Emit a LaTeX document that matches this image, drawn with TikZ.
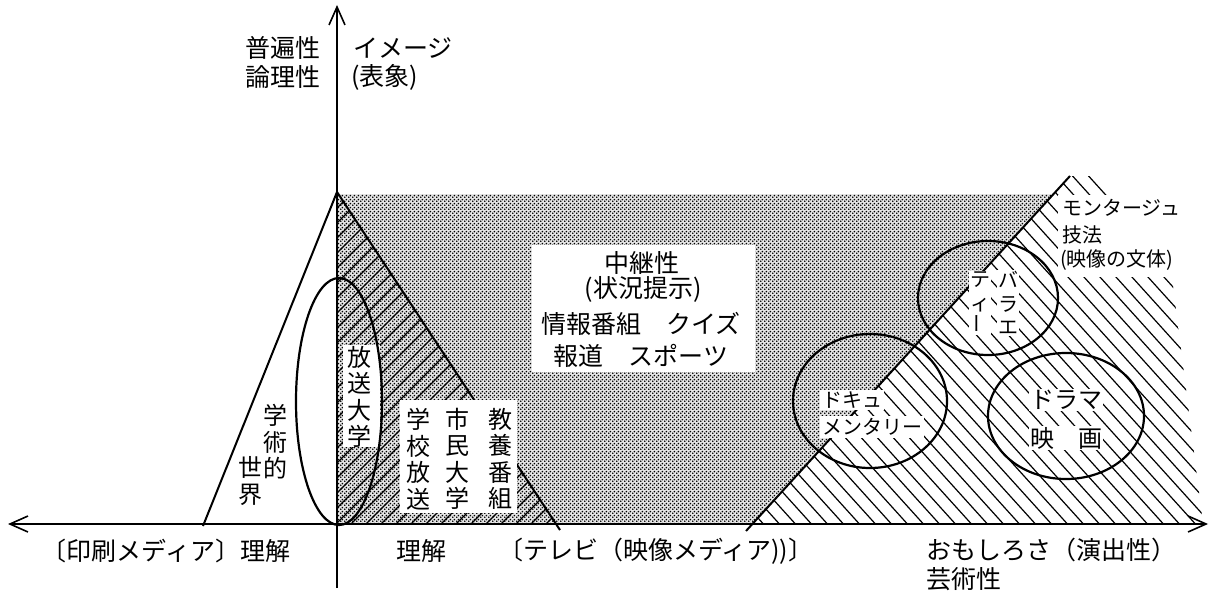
\documentclass[tikz,border=0pt]{standalone}
\usepackage{fontspec}
\usepackage{graphicx}
\setmainfont{Noto Sans CJK JP}
\usetikzlibrary{arrows.meta,patterns.meta}
\tikzdeclarepattern{
  name=fdots,
  type=uncolored,
  bottom left={(0pt,0pt)},
  top right={(4pt,4pt)},
  tile size={(4pt,4pt)},
  code={
    \fill (1pt,1pt) circle (1.1pt);
    \fill (3pt,3pt) circle (1.1pt);
  }
}
\tikzset{
  lab/.style={inner sep=0pt, font=\fontsize{25}{29}\selectfont},
  labm/.style={inner sep=0pt, font=\fontsize{24}{28}\selectfont},
  labs/.style={inner sep=0pt, font=\fontsize{20}{26}\selectfont},
  vtxt/.style={inner sep=0pt, align=center, font=\fontsize{24}{26.5}\selectfont},
  vtxts/.style={inner sep=0pt, align=center, font=\fontsize{20}{23.5}\selectfont},
  wbox/.style={fill=white, inner sep=0pt},
  hatch/.style={line width=1.2pt},
  legline/.style={line width=2pt},
  ell/.style={line width=2.2pt},
  axisln/.style={line width=1.6pt},
  barb/.tip={Straight Barb[length=18pt,width=16pt]}
}
\begin{document}
\begin{tikzpicture}[x=1pt,y=-1pt]
\useasboundingbox (0,0) rectangle (1210,594);
% key points
\coordinate (O) at (337,524);
\coordinate (A) at (337,192);
\coordinate (Lfoot) at (203,526);
\coordinate (Rfoot) at (560,530);
\coordinate (Rax) at (556,524);
\coordinate (Dbot) at (746,531);
\coordinate (Dax) at (752,524);
\coordinate (Dtop) at (1070,176);
\coordinate (Ytop) at (337,5);
\coordinate (Ybot) at (337,588);
\coordinate (Xl) at (8,524);
\coordinate (Xr) at (1208,524);

% dotted region
\fill[black!10] (337,194) -- (1053,194) -- (Dax) -- (O) -- cycle;
\fill[pattern=fdots] (337,194) -- (1053,194) -- (Dax) -- (O) -- cycle;

% left hatching
\begin{scope}
  \clip (A) -- (Rax) -- (O) -- cycle;
  \foreach \s in {-300,-285,...,600} \draw[hatch] (\s,560) -- ++(420,-420);
\end{scope}

% right hatching
\begin{scope}
  \clip (Dax) -- (Dtop) -- (1100,176) -- (1170,262) -- (1203,524) -- cycle;
  \foreach \s in {400,416,...,1220} \draw[hatch] (\s,140) -- ++(380,420);
\end{scope}

% lines
\draw[legline] (A) -- (Lfoot);
\draw[legline] (A) -- (Rfoot);
\draw[legline] (Dbot) -- (Dtop);

% top labels
\node[lab] (fuhen) at (283,48) {普遍性};
\node[lab] (ronri) at (283,77) {論理性};
\node[lab, anchor=west] (image) at (353,48) {イメージ};
\node[lab, anchor=west] (hyosho) at (351,77) {(表象)};

% central box
\node[wbox, minimum width=223pt, minimum height=127pt] (cbox) at (643.5,308.5) {};
\node[lab] (chukei) at (642,263) {中継性};
\node[lab] (jokyo) at (643,289) {(状況提示)};
\node[lab] (joho) at (641,324) {情報番組　クイズ};
\node[lab] (hodo) at (641,356) {報道　スポーツ};

% left vertical texts
\node[wbox, minimum width=37pt, minimum height=102pt] (hbox) at (361.5,396) {};
\node[vtxt] (hoso) at (359,397) {放\\送\\大\\学};
\node[vtxt] (gaku1) at (275,442) {学\\術\\的};
\node[vtxt] (gaku2) at (250,481) {世\\界};

\node[wbox, minimum width=117pt, minimum height=113pt] (sbox) at (458.5,456.5) {};
\node[vtxt] (gakko) at (418,459) {学\\校\\放\\送};
\node[vtxt] (shimin) at (457,459) {市\\民\\大\\学};
\node[vtxt] (kyoyo) at (500,459) {教\\養\\番\\組};

% right texts
\node[labs, fill=white, inner sep=2pt, anchor=west] (doku1) at (820,400) {ドキュ};
\node[labs, fill=white, inner sep=2pt, anchor=west] (doku2) at (820,427) {メンタリー};
\node[vtxts, fill=white, inner sep=1pt] (bara) at (1008,303) {バ\\ラ\\エ};
\node[vtxts, fill=white, inner sep=1pt] (tei) at (980,303) {テ\\ィ\\\rotatebox{90}{ー}};
\node[labm, fill=white, inner sep=1pt] (drama) at (1066,400) {ドラマ};
\node[labm, fill=white, inner sep=1pt] (eiga) at (1066,438) {映　画};

\node[wbox, minimum width=142pt, minimum height=82pt] (mbox) at (1129,236) {};
\node[labs, anchor=west] (montage) at (1062,208) {モンタージュ};
\node[labs, anchor=west] (giho) at (1062,235) {技法};
\node[labs, anchor=west] (eizo) at (1060,260) {(映像の文体)};

% ellipses
\draw[ell] (339,401.5) ellipse [x radius=43, y radius=123.5];
\draw[ell] (870,401) ellipse [x radius=77, y radius=67];
\draw[ell] (988,298) ellipse [x radius=70, y radius=57];
\draw[ell] (1066,416) ellipse [x radius=78, y radius=63];

% axes
\draw[axisln, -barb] (Ybot) -- (Ytop);
\draw[axisln, barb-barb] (Xl) -- (Xr);

% bottom labels
\node[lab] (insatsu) at (166,551) {〔印刷メディア〕理解};
\node[lab] (rikai) at (421,551) {理解};
\node[lab, anchor=west] (tv) at (498,551) {〔テレビ（映像メディア))〕};
\node[lab, anchor=west] (omoshiro) at (926,550) {おもしろさ（演出性）};
\node[lab, anchor=west] (geijutsu) at (926,579) {芸術性};
\end{tikzpicture}
\end{document}
